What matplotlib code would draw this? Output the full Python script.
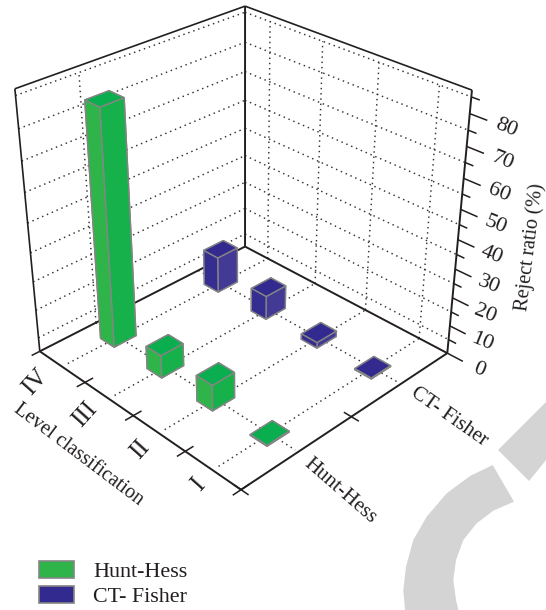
import matplotlib
matplotlib.use('Agg')
import matplotlib.pyplot as plt
import numpy as np
from matplotlib.patches import Patch, Polygon
from mpl_toolkits.mplot3d import proj3d

plt.rcParams['font.family'] = ['Liberation Serif', 'DejaVu Serif']

# data
levels = ['IV', 'III', 'II', 'I']
scales = ['Hunt-Hess', 'CT- Fisher']
hunt_hess = [80.5, 8, 9, 0.3]
ct_fisher = [13, 8.5, 2, 0.3]
z_major = [0, 10, 20, 30, 40, 50, 60, 70, 80]
z_minor = [5, 15, 25, 35, 45, 55, 65, 75, 85]
z_top = 87

# colours
ink = '#231f20'
edge = '#858585'
green = ['#0aae4e', '#2fb44a', '#16b14b']
blue = ['#322a8f', '#362d90', '#433a96']
swoosh = '#d4d4d4'

W, H = 546, 610
fig = plt.figure(figsize=(W / 100, H / 100), dpi=100)

# grey arcs behind the chart, outline in pixels of the picture
def pix(x, y):
    return x / W, 1 - y / H

outer = [(338, 225), (270, 258), (200, 310), (140, 380), (100, 450), (78, 530), (70, 600), (75, 660)]
inner = [(235, 660), (228, 630), (220, 570), (228, 510), (250, 450), (290, 400), (340, 362), (402, 335)]
arc = [pix(380 + a / 3, 390 + b / 3) for a, b in outer + inner]
fig.add_artist(Polygon(arc, closed=True, fc=swoosh, ec='none', transform=fig.transFigure, zorder=-1))
tip = [pix(498, 450), pix(546, 402), pix(546, 460), pix(529, 481)]
fig.add_artist(Polygon(tip, closed=True, fc=swoosh, ec='none', transform=fig.transFigure, zorder=-1))

# camera fitted to the corners of the box
ax = fig.add_axes([-19.63 / W, 118.78 / H, 511.86 / W, 511.86 / H], projection='3d')
ax.view_init(elev=30.469, azim=-44.459, roll=0.042)
ax.set_proj_type('persp', focal_length=0.4856)
ax.set_box_aspect((1, 1.0012, 0.998))
ax.set_xlim(0, 4)
ax.set_ylim(0, 2)
ax.set_zlim(0, z_top)
ax.set_axis_off()
ax.patch.set_alpha(0)
ax.computed_zorder = False


def frame(xs, ys, zs, lw=1.4):
    ax.plot(xs, ys, zs, color=ink, lw=lw, clip_on=False, zorder=2, solid_capstyle='butt')


def dots(xs, ys, zs):
    ax.plot(xs, ys, zs, color='#333333', lw=1.05, ls=(0, (1, 2.6)), clip_on=False, zorder=1)


# 3d text ignores rotation, so project the anchor by hand
def label(x, y, z, s, rot, size=14.5):
    X, Y, _ = proj3d.proj_transform(x, y, z, ax.get_proj())
    ax.text2D(X, Y, s, transform=ax.transData, rotation=rot, color=ink, fontsize=size,
              ha='center', va='center', rotation_mode='anchor', clip_on=False)


# walls and floor grid
for z in z_minor:
    dots([0, 0], [0, 2], [z, z])
    dots([0, 4], [2, 2], [z, z])
for x in [0.5, 1.5, 2.5, 3.5]:
    dots([x, x], [2, 2], [0, 85])
    dots([x, x], [0.05, 2], [0, 0])
dots([0, 0], [0.5, 0.5], [0, 85])
for y in [0.5, 1.5]:
    dots([0, 3.95], [y, y], [0, 0])

# box
frame([0, 4], [0, 0], [0, 0])
frame([4, 4], [0, 2], [0, 0])
frame([0, 4], [2, 2], [0, 0])
frame([0, 0], [0, 2], [0, 0])
frame([0, 0], [2, 2], [0, z_top])
frame([0, 0], [0, 0], [0, z_top], lw=1.2)
frame([4, 4], [2, 2], [0, z_top])
frame([0, 0], [0, 2], [z_top, z_top], lw=1.2)
frame([0, 4], [2, 2], [z_top, z_top], lw=1.2)

# ticks
for x in [0, 1, 2, 3, 4]:
    frame([x, x], [-0.07, 0.07 if x else 0], [0, 0], lw=1.1)
for y in [0, 1, 2]:
    frame([3.87 if y != 2 else 4, 4.13 if y != 2 else 4.27], [y, y], [0, 0], lw=1.1)
for z in z_major[1:]:
    frame([4, 4.27], [2, 2], [z, z], lw=1.1)
for z in z_minor:
    frame([4, 4.13], [2, 2], [z, z], lw=1.1)

# bars, far ones first
dx, dy = 0.3, 0.2
zo = 3
for i, level in enumerate(levels):
    for j, (vals, cols) in reversed(list(enumerate([(hunt_hess, green), (ct_fisher, blue)]))):
        top, left, right = cols
        faces = [top, top, left, left, right, right]
        ax.bar3d(i + 0.5 - dx / 2, j + 0.5 - dy / 2, 0, dx, dy, vals[i], color=faces,
                 shade=False, edgecolor=edge, linewidth=1.0, zorder=zo)
        zo += 1

# labels
for level, x, y in zip(levels, [0.53, 1.55, 2.58, 3.57], [-0.234, -0.22, -0.19, -0.155]):
    label(x, y, 0, level, 48, size=18)
label(4.85, 0.42, 0, scales[0], -41, size=15)
label(4.9, 1.45, 0, scales[1], -35, size=15)
for z in z_major:
    label(4.55, 2, z, str(z), -22, size=16)

fx, fy = pix(78, 455)
fig.text(fx, fy, 'Level classification', rotation=-37, color=ink, fontsize=14.5,
         ha='center', va='center', rotation_mode='anchor')
fx, fy = pix(530, 247)
fig.text(fx, fy, 'Reject ratio (%)', rotation=83, color=ink, fontsize=14.5,
         ha='center', va='center', rotation_mode='anchor')

# legend
handles = [Patch(fc=green[1], ec=edge, lw=1.2, label=scales[0]),
           Patch(fc=blue[0], ec=edge, lw=1.2, label=scales[1])]
lx, ly = pix(39, 561)
fig.legend(handles=handles, loc='upper left', bbox_to_anchor=(lx, ly), frameon=False, fontsize=15.8,
           labelcolor=ink, borderpad=0, borderaxespad=0, handlelength=1.6, handleheight=0.78,
           handletextpad=0.86, labelspacing=0.2)

fig.savefig('out.png', dpi=100)
